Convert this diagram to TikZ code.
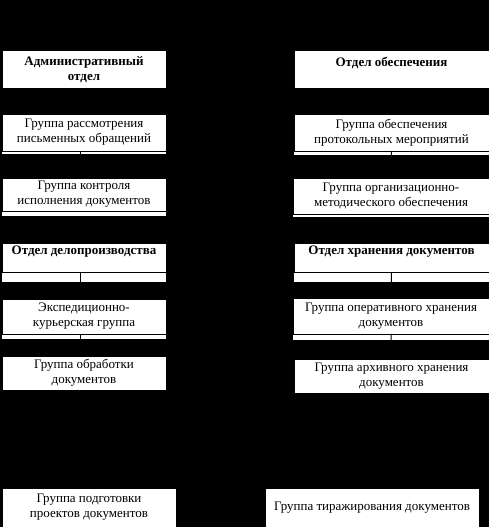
\documentclass[tikz,border=0pt]{standalone}
\usepackage{fontspec}
\setmainfont{Liberation Serif}
\begin{document}
\begin{tikzpicture}[x=1pt,y=-1pt,
  box/.style={draw=black, line width=1pt, fill=white, inner sep=0pt, outer sep=0pt,
    align=center, font=\fontsize{13}{15}\selectfont},
  head/.style={box, font=\fontsize{13}{15}\selectfont\bfseries},
  strip/.style={fill=white},
  link/.style={draw=black, line width=1pt}]
\fill[black] (0,0) rectangle (489,527);
\useasboundingbox (0,0) rectangle (489,527);
% boxes
\node[head, minimum width=164pt, minimum height=37pt] (l1) at (84,69.5) {Административный\\отдел};
\node[head, minimum width=195pt, minimum height=37pt] (r1) at (391.5,69.5) {Отдел обеспечения\\~};
\node[box, minimum width=164pt, minimum height=37pt] (l2) at (84,132.5) {Группа рассмотрения\\письменных обращений};
\node[box, minimum width=195pt, minimum height=37pt] (r2) at (391.5,132.5) {Группа обеспечения\\протокольных мероприятий};
\node[box, minimum width=164pt, minimum height=33pt] (l3) at (84,194.5) {Группа контроля\\исполнения документов};
\node[box, minimum width=196pt, minimum height=36pt] (r3) at (391,196) {Группа организационно-\\методического обеспечения};
\node[head, minimum width=164pt, minimum height=29pt] (l4) at (84,257.5) {Отдел делопроизводства\\~};
\node[head, minimum width=195pt, minimum height=29pt] (r4) at (391.5,257.5) {Отдел хранения документов\\~};
\node[box, minimum width=164pt, minimum height=35pt] (l5) at (84,316.5) {Экспедиционно-\\курьерская группа};
\node[box, minimum width=196pt, minimum height=36pt] (r5) at (391,316) {Группа оперативного хранения\\документов};
\node[box, minimum width=164pt, minimum height=34pt] (l6) at (84,373) {Группа обработки\\документов};
\node[box, minimum width=195pt, minimum height=34pt] (r6) at (391.5,376) {Группа архивного хранения\\документов};
\node[box, minimum width=174pt, minimum height=39pt] (l7) at (89,507.5) {Группа подготовки\\проектов документов};
\node[box, minimum width=214pt, minimum height=39pt] (r7) at (372,507.5) {Группа тиражирования документов};
% white strips under boxes
\begin{scope}[on background layer/.style={}]
\fill[strip] ([yshift=-0.5pt]l2.south west) rectangle ([yshift=-3pt]l2.south east);
\fill[strip] ([yshift=-0.5pt]r2.south west) rectangle ([yshift=-4pt]r2.south east);
\fill[strip] ([yshift=-0.5pt]l3.south west) rectangle ([yshift=-5pt]l3.south east);
\fill[strip] ([yshift=-0.5pt]r3.south west) rectangle ([yshift=-3pt]r3.south east);
\fill[strip] ([yshift=-0.5pt]l4.south west) rectangle ([yshift=-10pt]l4.south east);
\fill[strip] ([yshift=-0.5pt]r4.south west) rectangle ([yshift=-10pt]r4.south east);
\fill[strip] ([yshift=-0.5pt]l5.south west) rectangle ([yshift=-5pt]l5.south east);
\fill[strip] ([yshift=-0.5pt]r5.south west) rectangle ([yshift=-6pt]r5.south east);
\end{scope}
% connectors
\draw[link] ([xshift=-4pt]l2.south) -- ([xshift=-4pt]l3.north);
\draw[link] ([xshift=-4pt]l4.south) -- ([xshift=-4pt]l5.north);
\draw[link] ([xshift=-4pt]l5.south) -- ([xshift=-4pt]l6.north);
\draw[link] (r2.south) -- (r3.north);
\draw[link] (r4.south) -- (r5.north);
\draw[link] (r5.south) -- (r6.north);
\end{tikzpicture}
\end{document}
